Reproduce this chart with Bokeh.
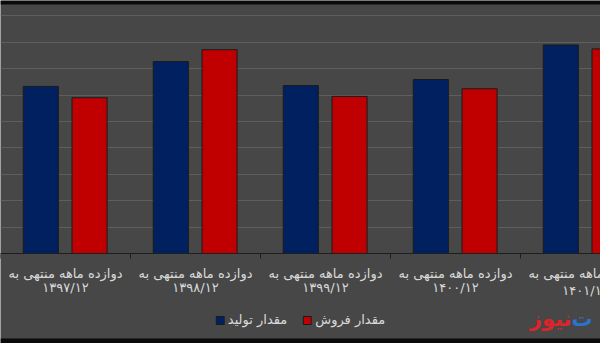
from bokeh.plotting import figure
from bokeh.models import (ColumnDataSource, FixedTicker, Legend, LegendItem, Range1d,
                          LinearAxis, Label, BoxAnnotation)
from bokeh.embed import file_html
from bokeh.resources import INLINE

# ---- data (in gridline units) ----
periods = ["۱۳۹۷/۱۲", "۱۳۹۸/۱۲", "۱۳۹۹/۱۲", "۱۴۰۰/۱۲", "۱۴۰۱/۱۲"]
label_prefix = "دوازده ماهه منتهی به"
production = [6.33, 7.27, 6.36, 6.59, 7.90]
sales = [5.90, 7.72, 5.95, 6.24, 7.75]
series_names = ["مقدار تولید", "مقدار فروش"]
series_colors = ["#002060", "#C00000"]
watermark = ["ت", "نیوز"]

FONT = "DejaVu Sans"
TEXT = "#d9d9d9"
BG = "#474747"

n = len(periods)
centers = [i + 0.5 for i in range(n)]
src = ColumnDataSource(dict(
    xp=[c - 0.19 for c in centers],
    xs=[c + 0.185 for c in centers],
    prod=production,
    sales=sales,
))

# px per gridline unit = 26.4 ; baseline sits 253 px from the top
p = figure(frame_width=600, frame_height=343,
           x_range=Range1d(0, 600 / 130), y_range=Range1d(-90 / 26.4, 253 / 26.4),
           output_backend="svg", toolbar_location=None,
           min_border_left=0, min_border_right=0, min_border_top=0, min_border_bottom=0)
p.background_fill_color = BG
p.border_fill_color = BG
p.outline_line_color = None

r1 = p.vbar(x="xp", top="prod", width=0.27, bottom=0, source=src,
            fill_color=series_colors[0], line_color="#1a1a1a", line_width=1)
r2 = p.vbar(x="xs", top="sales", width=0.27, bottom=0, source=src,
            fill_color=series_colors[1], line_color="#1a1a1a", line_width=1)

# dark bands at the very top and bottom of the picture
p.add_layout(BoxAnnotation(bottom=249 / 26.4, fill_color="#0a0a0a", fill_alpha=1, line_color=None))
p.add_layout(BoxAnnotation(top=-85 / 26.4, fill_color="#0a0a0a", fill_alpha=1, line_color=None))

# grid
p.ygrid.ticker = FixedTicker(ticks=list(range(1, 10)))
p.ygrid.grid_line_color = "#5e5e5e"
p.xgrid.visible = False
p.yaxis.visible = False

shown = centers[:-1]          # the last category runs past the right edge

# x axis drawn at y = 0: labels at category centres, tick marks at boundaries
xa = p.xaxis[0]
xa.fixed_location = 0
xa.ticker = FixedTicker(ticks=shown, minor_ticks=list(range(0, n + 1)))
xa.major_label_overrides = {c: label_prefix for c in shown}
xa.major_tick_out = 0
xa.major_tick_in = 0
xa.minor_tick_out = 5
xa.minor_tick_in = 0
xa.minor_tick_line_color = "#1e1e1e"
xa.axis_line_color = "#1e1e1e"
xa.major_label_standoff = 7
xa.major_label_text_font = FONT
xa.major_label_text_font_size = "13px"
xa.major_label_text_color = TEXT

# second line of the category labels
xa2 = LinearAxis(fixed_location=0, ticker=FixedTicker(ticks=shown),
                 major_label_overrides={c: per for c, per in zip(shown, periods)},
                 axis_line_color=None, major_tick_line_color=None, minor_tick_line_color=None,
                 major_tick_out=0, minor_tick_out=0,
                 major_label_standoff=26, major_label_text_font=FONT,
                 major_label_text_font_size="13px", major_label_text_color=TEXT)
p.add_layout(xa2, "below")

# labels of the last (cropped) category, free to run past the edge
p.add_layout(Label(x=centers[-1], y=-20 / 26.4, text=label_prefix, text_align="center",
                   text_baseline="middle", text_font=FONT, text_font_size="13px",
                   text_color=TEXT))
p.add_layout(Label(x=centers[-1], y=-37 / 26.4, text=periods[-1], text_align="center",
                   text_baseline="middle", text_font=FONT, text_font_size="13px",
                   text_color=TEXT))

# watermark
p.add_layout(Label(x=571 / 130, y=-65 / 26.4, text=watermark[1], text_align="right",
                   text_baseline="middle", text_font=FONT, text_font_size="21px",
                   text_font_style="bold", text_color="#e0222a"))
p.add_layout(Label(x=571 / 130, y=-65 / 26.4, text=watermark[0], text_align="left",
                   text_baseline="middle", text_font=FONT, text_font_size="21px",
                   text_font_style="bold", text_color="#2a73cf"))

legend = Legend(items=[LegendItem(label=series_names[0], renderers=[r1]),
                       LegendItem(label=series_names[1], renderers=[r2])],
                orientation="horizontal", location="bottom_center",
                label_text_font=FONT, label_text_font_size="13px", label_text_color=TEXT,
                glyph_width=10, glyph_height=10, label_standoff=3, spacing=15,
                background_fill_alpha=0, border_line_alpha=0, padding=5, margin=11)
p.add_layout(legend)

open("out.html", "w").write(file_html(p, INLINE))
